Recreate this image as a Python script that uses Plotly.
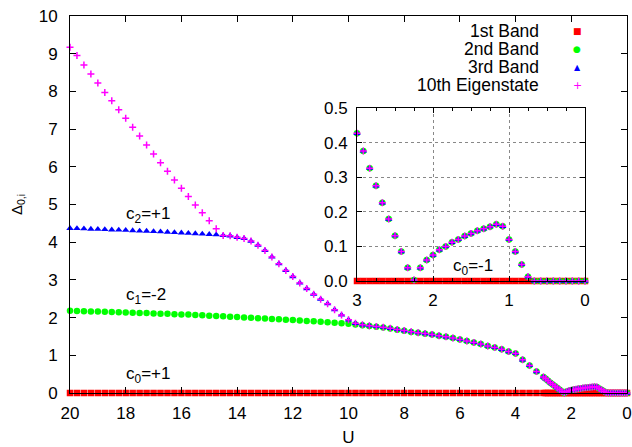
import plotly.graph_objects as go

# ---- sampling in U (coarse above U = 3, fine below) ----
U_COARSE = [
    20.0, 19.75, 19.5, 19.25, 19.0, 18.75, 18.5, 18.25, 18.0, 17.75,
    17.5, 17.25, 17.0, 16.75, 16.5, 16.25, 16.0, 15.75, 15.5, 15.25,
    15.0, 14.75, 14.5, 14.25, 14.0, 13.75, 13.5, 13.25, 13.0, 12.75,
    12.5, 12.25, 12.0, 11.75, 11.5, 11.25, 11.0, 10.75, 10.5, 10.25,
    10.0, 9.75, 9.5, 9.25, 9.0, 8.75, 8.5, 8.25, 8.0, 7.75,
    7.5, 7.25, 7.0, 6.75, 6.5, 6.25, 6.0, 5.75, 5.5, 5.25,
    5.0, 4.75, 4.5, 4.25, 4.0, 3.75, 3.5, 3.25,
]
U_FINE = [
    3.0, 2.917, 2.833, 2.75, 2.667, 2.583, 2.5, 2.417, 2.333, 2.25,
    2.167, 2.083, 2.0, 1.917, 1.833, 1.75, 1.667, 1.583, 1.5, 1.417,
    1.333, 1.25, 1.167, 1.083, 1.0, 0.917, 0.833, 0.75, 0.667, 0.583,
    0.5, 0.417, 0.333, 0.25, 0.167, 0.083, 0.0,
]

# ---- Delta_{0,i} values ----
BAND1_COARSE = [
    0.0, 0.0, 0.0, 0.0, 0.0, 0.0, 0.0, 0.0, 0.0, 0.0,
    0.0, 0.0, 0.0, 0.0, 0.0, 0.0, 0.0, 0.0, 0.0, 0.0,
    0.0, 0.0, 0.0, 0.0, 0.0, 0.0, 0.0, 0.0, 0.0, 0.0,
    0.0, 0.0, 0.0, 0.0, 0.0, 0.0, 0.0, 0.0, 0.0, 0.0,
    0.0, 0.0, 0.0, 0.0, 0.0, 0.0, 0.0, 0.0, 0.0, 0.0,
    0.0, 0.0, 0.0, 0.0, 0.0, 0.0, 0.0, 0.0, 0.0, 0.0,
    0.0, 0.0, 0.0, 0.0, 0.0, 0.0, 0.0, 0.0,
]
BAND1_FINE = [
    0.0, 0.0, 0.0, 0.0, 0.0, 0.0, 0.0, 0.0, 0.0, 0.0,
    0.0, 0.0, 0.0, 0.0, 0.0, 0.0, 0.0, 0.0, 0.0, 0.0,
    0.0, 0.0, 0.0, 0.0, 0.0, 0.0, 0.0, 0.0, 0.0, 0.0,
    0.0, 0.0, 0.0, 0.0, 0.0, 0.0, 0.0,
]
BAND2_COARSE = [
    2.18, 2.175, 2.17, 2.165, 2.16, 2.155, 2.15, 2.14, 2.135, 2.13,
    2.125, 2.12, 2.11, 2.105, 2.10, 2.09, 2.085, 2.08, 2.07, 2.06,
    2.05, 2.04, 2.035, 2.025, 2.015, 2.005, 1.995, 1.985, 1.975, 1.965,
    1.955, 1.945, 1.935, 1.925, 1.91, 1.90, 1.89, 1.875, 1.865, 1.85,
    1.835, 1.815, 1.80, 1.78, 1.76, 1.74, 1.71, 1.68, 1.65, 1.62,
    1.60, 1.57, 1.55, 1.52, 1.49, 1.46, 1.42, 1.38, 1.34, 1.30,
    1.25, 1.21, 1.16, 1.10, 1.05, 0.88, 0.73, 0.57,
]
BAND3_COARSE = [
    4.37, 4.365, 4.36, 4.35, 4.345, 4.34, 4.33, 4.325, 4.32, 4.31,
    4.30, 4.295, 4.285, 4.28, 4.27, 4.26, 4.25, 4.24, 4.23, 4.22,
    4.21, 4.20, 4.18, 4.17, 4.13, 4.10, 4.03, 3.92, 3.78, 3.61,
    3.43, 3.25, 3.09, 2.92, 2.77, 2.62, 2.49, 2.37, 2.21, 2.07,
    1.94, 1.85, 1.81, 1.785, 1.765, 1.745, 1.715, 1.685, 1.655, 1.625,
    1.60, 1.575, 1.55, 1.52, 1.49, 1.46, 1.42, 1.38, 1.34, 1.30,
    1.25, 1.21, 1.16, 1.10, 1.05, 0.88, 0.73, 0.57,
]
BAND10_COARSE = [
    9.17, 8.95, 8.70, 8.46, 8.22, 7.97, 7.75, 7.51, 7.29, 7.05,
    6.82, 6.58, 6.34, 6.11, 5.88, 5.65, 5.43, 5.21, 4.99, 4.78,
    4.57, 4.36, 4.18, 4.17, 4.13, 4.10, 4.03, 3.92, 3.78, 3.61,
    3.43, 3.25, 3.09, 2.92, 2.77, 2.62, 2.49, 2.37, 2.21, 2.07,
    1.94, 1.85, 1.81, 1.785, 1.765, 1.745, 1.715, 1.685, 1.655, 1.625,
    1.60, 1.575, 1.55, 1.52, 1.49, 1.46, 1.42, 1.38, 1.34, 1.30,
    1.25, 1.21, 1.16, 1.10, 1.05, 0.88, 0.73, 0.57,
]
# below U = 3 the 2nd, 3rd band and 10th eigenstate coincide
UPPER_FINE = [
    0.427, 0.376, 0.326, 0.275, 0.226, 0.179, 0.131, 0.085, 0.038, 0.003,
    0.038, 0.061, 0.075, 0.090, 0.100, 0.112, 0.120, 0.130, 0.137, 0.145,
    0.151, 0.157, 0.164, 0.158, 0.120, 0.085, 0.048, 0.012, 0.0, 0.0,
    0.0, 0.0, 0.0, 0.0, 0.0, 0.0, 0.0,
]

LEGEND_NAMES = ["1st Band", "2nd Band", "3rd Band", "10th Eigenstate"]
LEGEND_GLYPHS = ["■", "●", "▲", "+"]
LEGEND_GLYPH_SIZES = [9, 9, 8, 11]
COLORS = ["#ff0000", "#00ff00", "#0000ff", "#ff00ff"]
SYMBOLS = ["square", "circle", "triangle-up", "cross-thin"]
SIZES = [6.5, 6.5, 6.5, 5]

U_ALL = U_COARSE + U_FINE
SERIES = [
    BAND1_COARSE + BAND1_FINE,
    BAND2_COARSE + UPPER_FINE,
    BAND3_COARSE + UPPER_FINE,
    BAND10_COARSE + UPPER_FINE,
]
INSET_SERIES = [BAND1_FINE, UPPER_FINE, UPPER_FINE, UPPER_FINE]

FONT = "Liberation Sans, Arial, Helvetica, sans-serif"
GLYPH_FONT = "DejaVu Sans, sans-serif"
FS = 17
W, H = 632, 447
ML, MR, MT, MB = 70, 5, 16, 54
PW, PH = W - ML - MR, H - MT - MB


def px_x(p):
    return (p - ML) / PW


def px_y(p):
    return (H - MB - p) / PH


def marker(i):
    if SYMBOLS[i] == "cross-thin":
        return dict(symbol="cross-thin", size=SIZES[i],
                    line=dict(color=COLORS[i], width=1.5))
    return dict(symbol=SYMBOLS[i], size=SIZES[i], color=COLORS[i],
                line=dict(width=0))


fig = go.Figure()

for i, name in enumerate(LEGEND_NAMES):
    fig.add_trace(go.Scatter(
        x=U_ALL, y=SERIES[i], mode="markers", name=name,
        marker=marker(i), cliponaxis=False,
        xaxis="x", yaxis="y",
    ))

for i, name in enumerate(LEGEND_NAMES):
    fig.add_trace(go.Scatter(
        x=U_FINE, y=INSET_SERIES[i], mode="markers", name=name,
        marker=marker(i), cliponaxis=False,
        xaxis="x2", yaxis="y2",
    ))

axis_common = dict(
    showline=True, linecolor="black", linewidth=1, mirror="allticks",
    ticks="inside", tickcolor="black", zeroline=False,
    tickfont=dict(family=FONT, size=FS, color="black"),
)

fig.update_layout(
    width=W, height=H,
    margin=dict(l=ML, r=MR, t=MT, b=MB, autoexpand=False),
    paper_bgcolor="white", plot_bgcolor="white",
    font=dict(family=FONT, size=FS, color="black"),
    showlegend=False,
    xaxis=dict(
        axis_common, range=[20, 0], dtick=2, ticklen=6, showgrid=False,
        ticklabelstandoff=5,
        title=dict(text="U", font=dict(family=FONT, size=FS), standoff=12),
    ),
    yaxis=dict(
        axis_common, range=[0, 10], dtick=1, ticklen=6, showgrid=False,
        ticklabelstandoff=8,
        title=dict(text="Δ<sub>0,i</sub>", font=dict(family=FONT, size=15),
                   standoff=12),
    ),
    xaxis2=dict(
        axis_common, domain=[px_x(357), px_x(585)], anchor="y2",
        range=[3, 0], tickvals=[3, 2, 1, 0], ticklen=5,
        showgrid=True, gridcolor="#888888", griddash="dot", gridwidth=1,
        minor=dict(dtick=0.25, ticks="inside", ticklen=3,
                   tickcolor="black", showgrid=False),
        ticklabelstandoff=4,
    ),
    yaxis2=dict(
        axis_common, domain=[px_y(281), px_y(108)], anchor="x2",
        range=[0, 0.5], dtick=0.1, tickformat=".1f", ticklen=5,
        showgrid=True, gridcolor="#888888", griddash="dot", gridwidth=1,
        ticklabelstandoff=5,
    ),
)

# key: right-aligned labels with their symbols to the right
for k, name in enumerate(LEGEND_NAMES):
    row_y = px_y(31 + 18 * k)
    fig.add_annotation(
        xref="paper", yref="paper", x=px_x(541), y=row_y,
        text=name, showarrow=False, xanchor="right", yanchor="middle",
        font=dict(family=FONT, size=FS + 0.5, color="black"),
    )
    fig.add_annotation(
        xref="paper", yref="paper", x=px_x(577), y=row_y,
        text=LEGEND_GLYPHS[k], showarrow=False, xanchor="center",
        yanchor="middle",
        font=dict(family=GLYPH_FONT, size=LEGEND_GLYPH_SIZES[k],
                  color=COLORS[k]),
    )

# Chern number labels
CHERN_MAIN = [("c<sub>2</sub>=+1", 4.72), ("c<sub>1</sub>=-2", 2.56),
              ("c<sub>0</sub>=+1", 0.49)]
for text, yv in CHERN_MAIN:
    fig.add_annotation(
        xref="x", yref="y", x=18.05, y=yv, text=text, showarrow=False,
        xanchor="left", yanchor="middle",
        font=dict(family=FONT, size=FS, color="black"),
    )
fig.add_annotation(
    xref="x2", yref="y2", x=1.76, y=0.041, text="c<sub>0</sub>=-1",
    showarrow=False, xanchor="left", yanchor="middle",
    font=dict(family=FONT, size=FS, color="black"),
)

fig.write_html("out.html")
